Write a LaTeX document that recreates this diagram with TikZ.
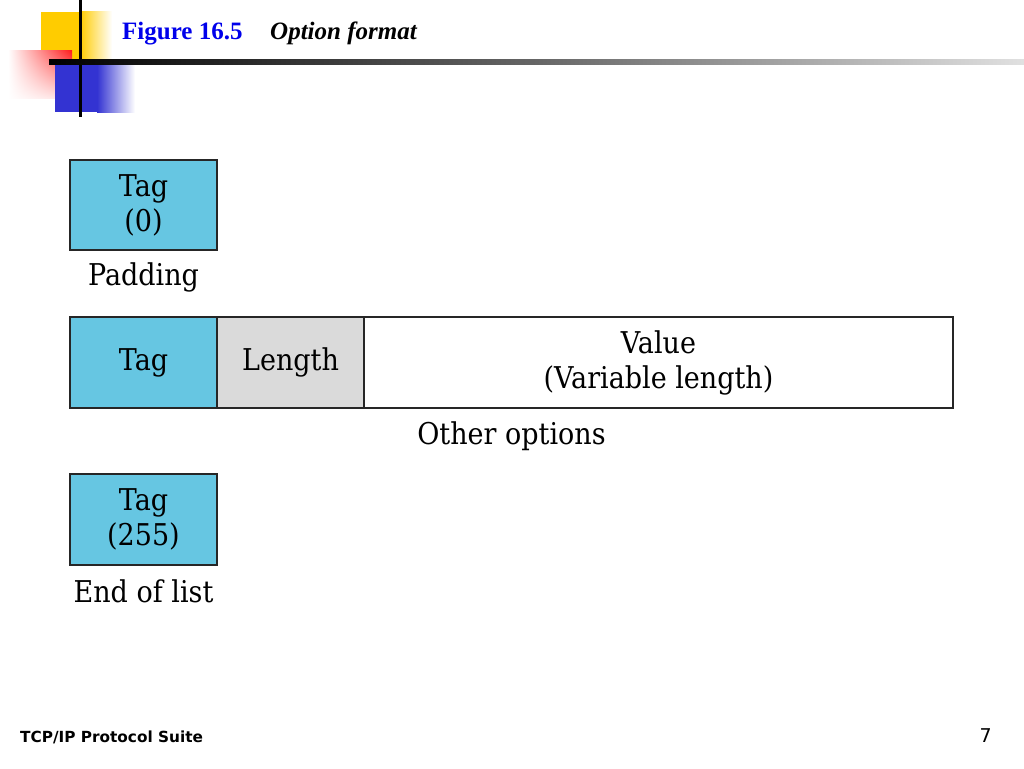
\documentclass[tikz,border=0pt]{standalone}
\usepackage{fontspec}
\setmainfont{DejaVu Serif}[FakeStretch=0.9]
\newfontfamily\titlefont{Liberation Serif}
\newfontfamily\footfont{DejaVu Sans}
\usetikzlibrary{positioning}
\usetikzlibrary{shadings}
\definecolor{tagblue}{RGB}{102,198,226}
\definecolor{lengray}{RGB}{218,218,218}
\definecolor{figblue}{RGB}{0,0,235}
\definecolor{decoyellow}{RGB}{255,204,0}
\definecolor{decored}{RGB}{255,30,30}
\definecolor{decoblue}{RGB}{51,51,210}
\tikzset{
	field/.style={draw=black!85, line width=2pt, outer sep=0pt, minimum height=91pt, inner sep=0pt, align=center, font=\fontsize{30}{35}\selectfont},
	caption/.style={inner sep=0pt, font=\fontsize{30}{35}\selectfont}
}

\begin{document}
\begin{tikzpicture}[x=1pt, y=-1pt]
		\useasboundingbox[fill=white] (0,0) rectangle (1024,768);

		% corner decoration
		\fill[decoyellow] (41,12) rectangle (81,60);
		\shade[left color=decoyellow, right color=white] (80,12) rectangle (112,60);
		\shade[upper left=white, upper right=decored, lower left=white, lower right=decored!15] (8,51) rectangle (72,98);
		\fill[decoblue] (55,62) rectangle (98,112);
		\shade[left color=decoblue, right color=white] (97,62) rectangle (135,112);
		\fill[black] (79,0) rectangle (82,117);
		\shade[left color=black, right color=black!12, middle color=black!60] (49,59) rectangle (1024,64);

		% title
		\node[anchor=base west, inner sep=0pt, text=figblue, font=\titlefont\bfseries\fontsize{25}{30}\selectfont] (figNum) at (122,40) {Figure 16.5};
		\node[anchor=base west, inner sep=0pt, font=\titlefont\bfseries\itshape\fontsize{25}{30}\selectfont] (figName) at (270,40) {Option format};

		% padding
		\node[field, fill=tagblue, minimum width=147pt, minimum height=90pt, anchor=north west] (pad) at (70,160) {Tag\\(0)};
		\node[caption, below=13pt of pad] (padLbl) {Padding};

		% other options
		\node[field, fill=tagblue, minimum width=147pt, anchor=north west] (optTag) at (70,317) {Tag};
		\node[field, fill=lengray, minimum width=147pt, right=0pt of optTag] (optLen) {Length};
		\node[field, fill=white, minimum width=589pt, right=0pt of optLen] (optVal) {Value\\(Variable length)};
		\path (optTag.south west) -- (optVal.south east) coordinate[midway] (optBot);
		\node[caption, below=14pt of optBot] (optLbl) {Other options};

		% end of list
		\node[field, fill=tagblue, minimum width=147pt, anchor=north west] (eol) at (70,474) {Tag\\(255)};
		\node[caption, below=14pt of eol] (eolLbl) {End of list};

		% footer
		\node[anchor=base west, inner sep=0pt, font=\footfont\bfseries\fontsize{15.3}{18}\selectfont] (suite) at (20,742) {TCP/IP Protocol Suite};
		\node[anchor=base east, inner sep=0pt, font=\footfont\fontsize{19}{24}\selectfont] (pageNo) at (992,742) {7};

	\end{tikzpicture}
\end{document}
